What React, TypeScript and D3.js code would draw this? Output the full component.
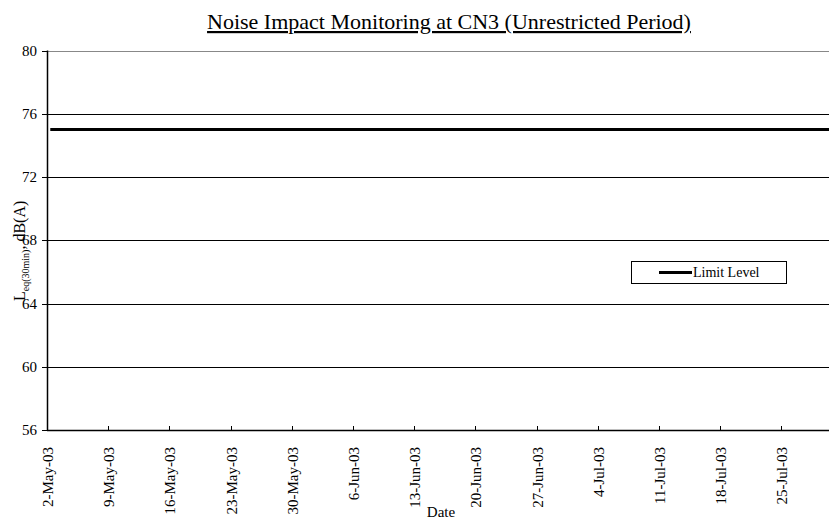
import React from "react";
import * as d3 from "d3";

const yTicks = [56, 60, 64, 68, 72, 76, 80];
const xTickDates = [
  "2003-05-02", "2003-05-09", "2003-05-16", "2003-05-23", "2003-05-30",
  "2003-06-06", "2003-06-13", "2003-06-20", "2003-06-27", "2003-07-04",
  "2003-07-11", "2003-07-18", "2003-07-25",
];
const limitDates = ["2003-05-02T09:00", "2003-08-01"];
const limitValues = [75, 75];
const xDomain = ["2003-05-02", "2003-08-01"];
const yDomain = [56, 80];
const seriesName = "Limit Level";

const W = 829;
const H = 524;
const FONT = "Liberation Serif, Times New Roman, DejaVu Serif, serif";

export default function App() {
  const parse = (s: string) => new Date(s);
  const fmt = d3.timeFormat("%-d-%b-%y");
  const left = 47;
  const x = d3
    .scaleTime()
    .domain(xDomain.map(parse))
    .range([left, left + 91 * (61.2 / 7)]);
  const y = d3.scaleLinear().domain(yDomain).range([430, 50.5]);
  const plotRight = W + 20;

  const limitData = limitDates.map((d, i) => ({ d: parse(d), v: limitValues[i] }));
  const line = d3
    .line<{ d: Date; v: number }>()
    .x((p) => x(p.d))
    .y((p) => y(p.v));

  return (
    <div style={{ position: "absolute", left: 0, top: 0, width: W, height: H, overflow: "hidden" }}>
      <svg width={W} height={H} style={{ display: "block", background: "#fff", fontFamily: FONT }}>
        <rect x={0} y={0} width={W} height={H} fill="#fff" />
        {/* title */}
        <text x={449} y={29} textAnchor="middle" fontSize={22} fill="#000" textDecoration="underline" style={{ fontFamily: FONT }}>
          Noise Impact Monitoring at CN3 (Unrestricted Period)
        </text>
        {/* gridlines */}
        {yTicks.filter((t) => t !== 56).map((t) => (
          <line
            key={"g" + t}
            x1={left}
            x2={plotRight}
            y1={Math.round(y(t)) + 0.5}
            y2={Math.round(y(t)) + 0.5}
            stroke={t === 80 ? "#888" : "#000"}
            strokeWidth={1}
          />
        ))}
        {/* y axis */}
        <line x1={left + 0.5} x2={left + 0.5} y1={y(80)} y2={y(56) + 1} stroke="#000" strokeWidth={1.5} />
        {yTicks.map((t) => (
          <g key={"yt" + t}>
            <line x1={left - 5} x2={left} y1={Math.round(y(t)) + 0.5} y2={Math.round(y(t)) + 0.5} stroke="#000" />
            <text x={left - 10} y={y(t) + 5} textAnchor="end" fontSize={15} fill="#000" style={{ fontFamily: FONT }}>
              {t}
            </text>
          </g>
        ))}
        {/* x axis */}
        <line x1={left} x2={plotRight} y1={y(56) + 0.5} y2={y(56) + 0.5} stroke="#000" strokeWidth={1.5} />
        {xTickDates.map((s) => {
          const xv = Math.round(x(parse(s))) + 0.5;
          return (
            <g key={"xt" + s}>
              <line x1={xv} x2={xv} y1={y(56) - 4} y2={y(56)} stroke="#000" />
              <text
                transform={`translate(${xv + 5},${y(56) + 17}) rotate(-90)`}
                textAnchor="end"
                fontSize={15}
                fill="#000"
                style={{ fontFamily: FONT }}
              >
                {fmt(parse(s))}
              </text>
            </g>
          );
        })}
        {/* limit line */}
        <path d={line(limitData) || ""} stroke="#000" strokeWidth={3} fill="none" />
        {/* axis labels */}
        <text x={441} y={517} textAnchor="middle" fontSize={15} fill="#000" style={{ fontFamily: FONT }}>
          Date
        </text>
        <text transform="translate(25,301) rotate(-90)" textAnchor="start" fontSize={16} fill="#000" style={{ fontFamily: FONT }}>
          L<tspan fontSize={10} dy={4}>eq(30min)</tspan>
          <tspan dy={-4}>, dB(A)</tspan>
        </text>
        {/* legend */}
        <rect x={631.5} y={261.5} width={155} height={22} fill="#fff" stroke="#000" strokeWidth={1} />
        <line x1={659} x2={692} y1={272.5} y2={272.5} stroke="#000" strokeWidth={3} />
        <text x={693} y={277} fontSize={14} fill="#000" style={{ fontFamily: FONT }}>
          {seriesName}
        </text>
      </svg>
    </div>
  );
}
